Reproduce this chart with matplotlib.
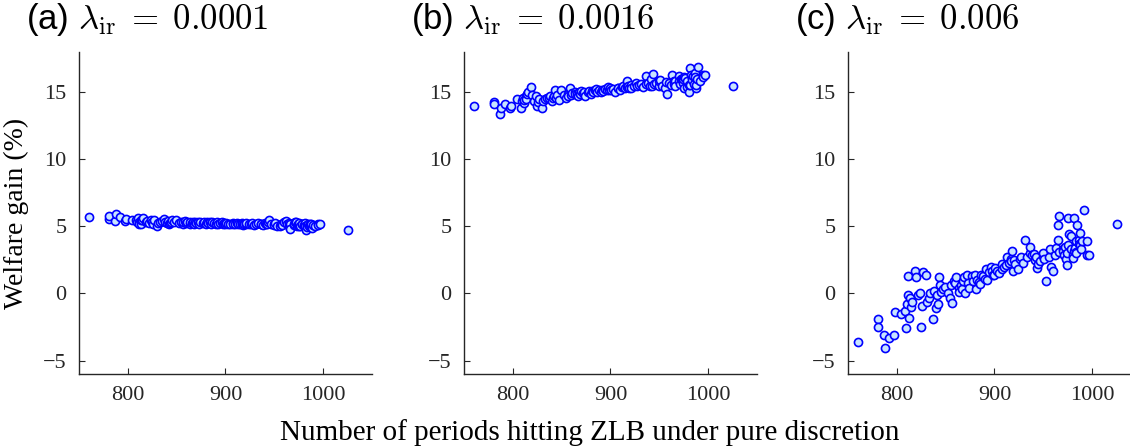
import matplotlib
matplotlib.use("Agg")
import matplotlib.pyplot as plt

plt.rcParams['mathtext.fontset'] = 'cm'

# number of periods hitting the ZLB (shared across panels)
x_runs = [760, 780.5, 781, 787, 788, 792, 797.5, 798, 804, 808, 809.5, 810, 811, 811.5, 813, 814, 815, 816,
          819, 820, 822, 823.5, 825, 826, 827, 829.5, 831, 833, 834.5, 837.5, 838, 840.5, 841, 842, 843,
          844.5, 845.5, 847, 849.5, 852, 854, 856, 857, 858.5, 859.5, 861, 863.5, 864, 866, 867, 868, 869,
          870, 872, 873, 874, 877, 878, 880, 881.5, 882, 884, 885, 886.5, 888, 890, 891, 892.5, 894, 896,
          897.5, 898, 900, 901, 903, 905, 907.5, 908, 910, 912, 913, 915, 916.5, 917, 918, 919, 920.5,
          921.5, 924.5, 926.5, 927, 929, 931.5, 933, 936, 936.5, 938, 940, 941, 943, 944, 945, 947, 949.5,
          950, 951, 953, 956, 957, 958, 960, 961.5, 963, 965, 965.5, 966, 966.5, 970, 970.5, 971.5, 972.5,
          973, 974, 974.5, 975, 975.5, 976.5, 978, 978.5, 980, 980.5, 981, 981.5, 982, 983, 983.5, 984,
          985, 986.5, 987, 987.5, 988, 988.5, 990, 992, 994.5, 995, 996.5, 1025]

# welfare gain (%) for lambda_ir = 0.0001
gain_a = [5.7, 5.55, 5.8, 5.4, 5.95, 5.7, 5.4, 5.55, 5.45, 5.5, 5.3, 5.6, 5.35, 5.2, 5.15, 5.45, 5.5, 5.65,
          5.3, 5.4, 5.25, 5.45, 5.35, 5.2, 5.5, 5.0, 5.25, 5.3, 5.4, 5.55, 5.3, 5.25, 5.4, 5.2, 5.25,
          5.35, 5.45, 5.3, 5.45, 5.25, 5.35, 5.2, 5.3, 5.4, 5.25, 5.35, 5.2, 5.3, 5.25, 5.35, 5.2, 5.3,
          5.25, 5.35, 5.2, 5.3, 5.25, 5.35, 5.2, 5.3, 5.25, 5.3, 5.2, 5.3, 5.25, 5.2, 5.3, 5.2, 5.25, 5.3,
          5.2, 5.25, 5.15, 5.25, 5.2, 5.15, 5.25, 5.2, 5.15, 5.25, 5.2, 5.15, 5.25, 5.2, 5.1, 5.2, 5.15,
          5.25, 5.2, 5.15, 5.25, 5.1, 5.2, 5.25, 5.15, 5.2, 5.1, 5.25, 5.15, 5.2, 5.3, 5.45, 5.15, 5.2,
          5.1, 5.25, 5.0, 5.05, 5.2, 5.1, 5.3, 5.4, 5.15, 5.0, 5.25, 5.15, 4.8, 5.1, 5.2, 5.3, 5.35,
          5.0, 5.1, 5.2, 5.05, 5.25, 5.0, 5.15, 5.2, 5.0, 5.1, 5.25, 5.05, 4.7, 5.1, 4.95, 5.15,
          5.05, 5.2, 5.1, 5.0, 5.15, 4.9, 5.1, 5.05, 5.15, 5.1, 5.2, 4.75]

# welfare gain (%) for lambda_ir = 0.0016
gain_b = [14.0, 14.25, 14.1, 13.4, 13.85, 14.1, 13.85, 14.0, 14.5, 13.85, 14.35, 14.6, 14.2, 14.45, 14.7, 14.5, 14.9, 15.0,
          15.4, 14.8, 14.35, 14.7, 14.0, 14.3, 14.5, 13.85, 14.35, 14.5, 14.6, 14.55, 14.7, 14.35, 14.55, 14.75, 15.2,
          14.6, 14.8, 14.45, 15.15, 14.8, 14.6, 14.9, 14.7, 15.3, 14.8, 14.95, 15.0, 14.85, 14.9, 14.75, 15.0, 14.9,
          15.1, 14.95, 15.05, 14.7, 15.0, 15.1, 14.9, 15.1, 15.0, 15.15, 15.25, 15.05, 15.15, 15.0, 15.2, 15.1, 15.25, 15.15,
          15.4, 15.2, 15.3, 15.15, 15.25, 15.0, 15.3, 15.35, 15.2, 15.4, 15.45, 15.3, 15.8, 15.4, 15.5, 15.3, 15.55,
          15.35, 15.5, 15.7, 15.45, 15.55, 15.6, 15.4, 16.2, 15.6, 15.7, 15.5, 16.0, 15.45, 16.35, 15.6, 15.7, 15.45,
          15.8, 15.9, 15.5, 15.35, 15.75, 14.9, 15.7, 15.55, 16.3, 15.85, 15.6, 15.85, 15.5, 16.2, 15.8, 15.6, 15.95,
          15.95, 15.7, 16.0, 15.3, 16.1, 16.05, 15.4, 15.8, 15.0, 15.55, 16.8, 15.55, 16.3, 16.05, 15.9, 16.2,
          15.6, 16.45, 16.1, 15.35, 15.55, 16.0, 16.85, 15.8, 16.3, 16.1, 16.3, 15.5]

# welfare gain (%) for lambda_ir = 0.006
gain_c = [-3.6, -1.9, -2.5, -3.1, -4.1, -3.3, -3.1, -1.4, -1.5, -1.3, -2.6, -0.8, -0.1, 1.3, -1.8, -0.3, -1.0, -0.65,
          1.7, 1.2, -0.15, 0.0, -2.5, -0.9, 1.6, 1.35, -0.6, -0.3, 0.0, -1.9, 0.2, -1.1, -0.15, -0.8, 1.2,
          0.6, 0.1, 0.3, 0.5, 0.0, -0.3, 0.6, -0.7, 0.9, 0.8, 1.2, 0.4, 0.1, 0.6, 0.3, 0.9, 1.25,
          0.05, 1.35, 0.8, 0.4, 1.3, 0.95, 1.4, 0.3, 1.0, 0.85, 0.7, 1.35, 1.3, 1.1, 1.8, 1.0, 1.6, 2.0,
          1.7, 1.35, 1.4, 1.9, 1.7, 1.55, 1.8, 2.2, 2.0, 2.1, 2.75, 2.3, 2.6, 2.4, 3.15, 1.65, 2.5,
          2.2, 1.8, 2.6, 2.75, 2.3, 4.0, 2.75, 3.0, 3.5, 2.9, 2.95, 2.5, 2.7, 1.9, 2.2, 2.4, 2.8,
          3.0, 2.6, 0.9, 2.7, 3.35, 2.0, 1.65, 2.9, 3.4, 5.1, 3.95, 5.8, 3.1, 3.3, 3.2, 2.9, 3.5,
          2.6, 2.1, 3.0, 3.6, 5.6, 4.45, 4.3, 3.3, 2.9, 2.65, 3.2, 5.6, 3.4, 3.1, 3.9, 3.0,
          5.1, 4.0, 3.7, 4.5, 3.6, 3.3, 3.9, 6.25, 3.9, 2.85, 2.9, 5.2]

panels = [gain_a, gain_b, gain_c]
titles = [r"(a) $\lambda_{\rm ir}\;=\;0.0001$", r"(b) $\lambda_{\rm ir}\;=\;0.0016$", r"(c) $\lambda_{\rm ir}\;=\;0.006$"]
lefts = [0.0699, 0.4106, 0.7504]

fig = plt.figure(figsize=(11.3, 4.48), dpi=100)
spine_col = '#262626'

for i in range(3):
    ax = fig.add_axes([lefts[i], 0.1652, 0.2593, 0.7188])
    ax.scatter(x_runs, panels[i], s=34, facecolors='#c8e4ff', edgecolors='#0000ff', linewidths=1.2, zorder=3)
    ax.set_xlim(750, 1050)
    ax.set_ylim(-6, 18)
    ax.set_xticks([800, 900, 1000])
    ax.set_yticks([-5, 0, 5, 10, 15])
    ax.spines['top'].set_visible(False)
    ax.spines['right'].set_visible(False)
    for sp in ['left', 'bottom']:
        ax.spines[sp].set_color(spine_col)
        ax.spines[sp].set_linewidth(1.0)
    ax.tick_params(direction='in', length=4, width=0.8, color=spine_col, labelcolor='#262626', pad=9)
    for lab in ax.get_xticklabels() + ax.get_yticklabels():
        lab.set_fontfamily('Liberation Serif')
        lab.set_fontsize(16)
    ax.text(-0.18, 1.1, titles[i], transform=ax.transAxes, ha='left', va='center',
            fontsize=25, family='Liberation Sans')
    if i == 0:
        ax.set_ylabel('Welfare gain (%)', fontsize=20, family='Liberation Serif', labelpad=10)

fig.text(0.522, 0.035, 'Number of periods hitting ZLB under pure discretion', ha='center', va='center',
         fontsize=21, family='Liberation Serif')

fig.savefig('out.png', dpi=100)
